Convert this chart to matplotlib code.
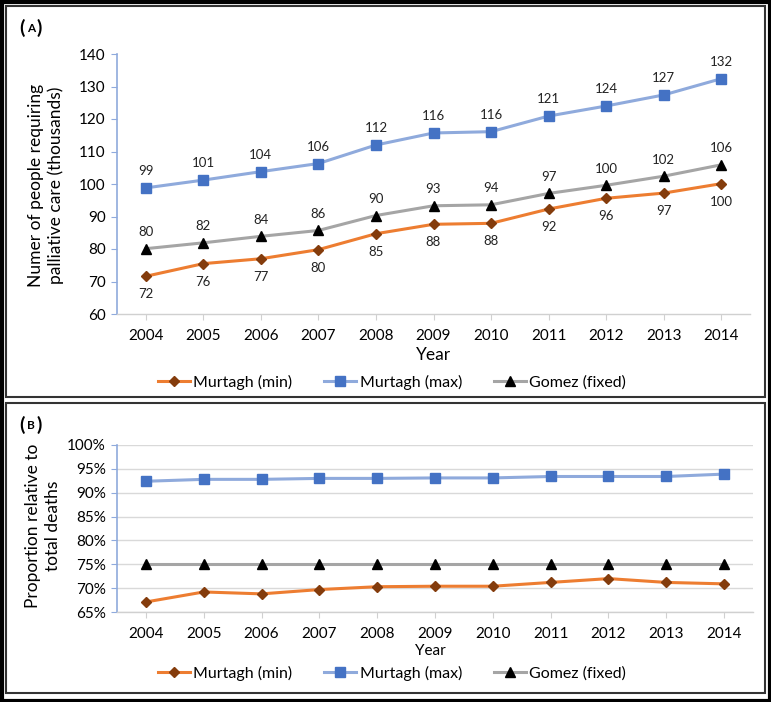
import matplotlib
matplotlib.use("Agg")
import matplotlib.pyplot as plt
from matplotlib.patches import Rectangle
from matplotlib.ticker import FuncFormatter

plt.rcParams['font.family'] = ['Lato', 'DejaVu Sans']

years = ['2004', '2005', '2006', '2007', '2008', '2009', '2010', '2011', '2012', '2013', '2014']

# Panel A: number of people (thousands)
a_min = [71.6, 75.5, 77.0, 79.8, 84.7, 87.6, 87.9, 92.3, 95.6, 97.2, 100.1]
a_max = [98.8, 101.2, 103.8, 106.3, 112.0, 115.7, 116.1, 120.9, 124.0, 127.4, 132.4]
a_gomez = [80.1, 81.9, 83.9, 85.7, 90.3, 93.3, 93.6, 97.1, 99.6, 102.4, 105.9]

# Panel B: proportion relative to total deaths (%)
b_min = [67.1, 69.2, 68.8, 69.7, 70.3, 70.4, 70.4, 71.2, 72.0, 71.2, 70.9]
b_max = [92.4, 92.8, 92.8, 93.0, 93.0, 93.1, 93.1, 93.4, 93.4, 93.4, 93.9]
b_gomez = [75.0, 75.0, 75.0, 75.0, 75.0, 75.0, 75.0, 75.0, 75.0, 75.0, 75.0]

series_names = ['Murtagh (min)', 'Murtagh (max)', 'Gomez (fixed)']

W, H = 771, 702
fig = plt.figure(figsize=(W / 100, H / 100), dpi=100)

def fx(px):
    return px / W

def fy(py):
    return 1 - py / H

# Borders
fig.patches.append(Rectangle((fx(1.5), fy(700.5)), fx(768), 699 / H, transform=fig.transFigure,
                             fill=False, edgecolor='black', linewidth=3.0))
fig.patches.append(Rectangle((fx(6), fy(397)), fx(759), 391 / H, transform=fig.transFigure,
                             fill=False, edgecolor='#333333', linewidth=1.5))
fig.patches.append(Rectangle((fx(6), fy(693)), fx(759), 290 / H, transform=fig.transFigure,
                             fill=False, edgecolor='#333333', linewidth=1.5))

c_min_line = '#ED7D31'
c_min_mark = '#843C0C'
c_max_line = '#8FAADC'
c_max_mark = '#4472C4'
c_gom_line = '#A5A5A5'
c_gom_mark = '#000000'

def style_axes(ax, grid):
    for s in ['top', 'right']:
        ax.spines[s].set_visible(False)
    ax.spines['left'].set_color('#8FAADC')
    ax.spines['left'].set_linewidth(1.2)
    ax.spines['bottom'].set_color('#D0D0D0')
    ax.spines['bottom'].set_linewidth(1.0)
    ax.tick_params(axis='y', length=4, color='#8FAADC', labelsize=11, pad=4)
    ax.tick_params(axis='x', length=4, color='#D0D0D0', labelsize=11, pad=7)
    if grid:
        ax.yaxis.grid(True, color='#D9D9D9', linewidth=1.0)
        ax.set_axisbelow(True)

def plot_series(ax, xs, smin, smax, sgom):
    l1, = ax.plot(xs, smin, color=c_min_line, lw=2.2, marker='D', ms=5.5,
                  mfc=c_min_mark, mec=c_min_mark, label=series_names[0], zorder=3)
    l2, = ax.plot(xs, smax, color=c_max_line, lw=2.2, marker='s', ms=7,
                  mfc=c_max_mark, mec=c_max_mark, label=series_names[1], zorder=3)
    l3, = ax.plot(xs, sgom, color=c_gom_line, lw=2.2, marker='^', ms=7.5,
                  mfc=c_gom_mark, mec=c_gom_mark, label=series_names[2], zorder=3)
    return [l1, l2, l3]

xs = list(range(len(years)))

# ---------- Panel A ----------
axA = fig.add_axes([fx(117), fy(314), fx(750 - 117), (314 - 54) / H])
handles = plot_series(axA, xs, a_min, a_max, a_gomez)
axA.set_xlim(-0.5, len(years) - 0.5)
axA.set_ylim(60, 140)
axA.set_yticks(range(60, 141, 10))
axA.set_xticks(xs)
axA.set_xticklabels(years)
style_axes(axA, grid=False)
for x, v in zip(xs, a_max):
    axA.annotate(f"{round(v)}", (x, v), xytext=(0, 12), textcoords='offset points',
                 ha='center', va='center', fontsize=9.5, color='#222222')
for x, v in zip(xs, a_gomez):
    axA.annotate(f"{round(v)}", (x, v), xytext=(0, 12), textcoords='offset points',
                 ha='center', va='center', fontsize=9.5, color='#222222')
for x, v in zip(xs, a_min):
    axA.annotate(f"{round(v)}", (x, v), xytext=(0, -13), textcoords='offset points',
                 ha='center', va='center', fontsize=9.5, color='#222222')
fig.text(fx(46), fy(185), "Numer of people requiring\npalliative care (thousands)", rotation=90,
         ha='center', va='center', multialignment='center', fontsize=12.5, linespacing=1.25)
fig.text(fx(433), fy(355), "Year", ha='center', va='center', fontsize=12.5)
fig.legend(handles=handles, loc='center', bbox_to_anchor=(fx(392), fy(382)), ncol=3,
           frameon=False, fontsize=11.5, handlelength=2.0, columnspacing=2.0, handletextpad=0.2)

# ---------- Panel B ----------
axB = fig.add_axes([fx(117), fy(612), fx(753 - 117), (612 - 445) / H])
handlesB = plot_series(axB, xs, b_min, b_max, b_gomez)
axB.set_xlim(-0.5, len(years) - 0.5)
axB.set_ylim(65, 100)
axB.set_yticks(range(65, 101, 5))
axB.yaxis.set_major_formatter(FuncFormatter(lambda v, p: f"{int(v)}%"))
axB.set_xticks(xs)
axB.set_xticklabels(years)
style_axes(axB, grid=True)
fig.text(fx(43), fy(526), "Proportion relative to\ntotal deaths", rotation=90,
         ha='center', va='center', multialignment='center', fontsize=12.5, linespacing=1.25)
fig.text(fx(430), fy(651), "Year", ha='center', va='center', fontsize=11)
fig.legend(handles=handlesB, loc='center', bbox_to_anchor=(fx(392), fy(673)), ncol=3,
           frameon=False, fontsize=11.5, handlelength=2.0, columnspacing=2.0, handletextpad=0.2)

# Panel letters
for (x0, y0, letter) in [(22, 28, 'A'), (22, 425, 'B')]:
    fig.text(fx(x0), fy(y0), "(", ha='center', va='center', fontsize=14, fontweight='bold')
    fig.text(fx(x0 + 9), fy(y0 + 1), letter, ha='center', va='center', fontsize=8.5, fontweight='bold')
    fig.text(fx(x0 + 17), fy(y0), ")", ha='center', va='center', fontsize=14, fontweight='bold')

fig.savefig("out.png", dpi=100)
